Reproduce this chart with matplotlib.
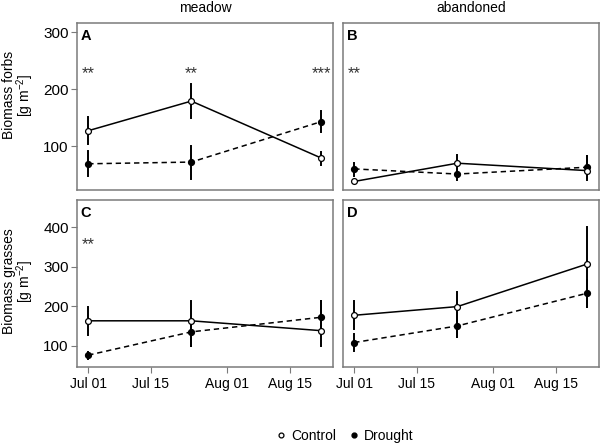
import datetime as dt
import matplotlib
matplotlib.use('Agg')
import matplotlib.pyplot as plt
import matplotlib.dates as mdates
from matplotlib.lines import Line2D

plt.rcParams.update({
    'font.family': ['Liberation Sans', 'DejaVu Sans'],
    'font.size': 10,
    'mathtext.fontset': 'custom',
    'mathtext.rm': 'Liberation Sans',
})

dates = [dt.date(2015, 7, 1), dt.date(2015, 7, 24), dt.date(2015, 8, 22)]

# forbs, meadow (A)
forb_mead_ctrl = [127, 179, 79]
forb_mead_ctrl_lo = [103, 149, 66]
forb_mead_ctrl_hi = [151, 209, 90]
forb_mead_drt = [69, 72, 143]
forb_mead_drt_lo = [47, 43, 124]
forb_mead_drt_hi = [91, 101, 162]

# forbs, abandoned (B)
forb_aban_ctrl = [38, 70, 57]
forb_aban_ctrl_lo = [36, 59, 41]
forb_aban_ctrl_hi = [40, 84, 82]
forb_aban_drt = [60, 51, 63]
forb_aban_drt_lo = [48, 41, 44]
forb_aban_drt_hi = [71, 60, 83]

# grasses, meadow (C)
gras_mead_ctrl = [163, 163, 138]
gras_mead_ctrl_lo = [127, 98, 98]
gras_mead_ctrl_hi = [198, 214, 213]
gras_mead_drt = [76, 135, 172]
gras_mead_drt_lo = [66, 98, 130]
gras_mead_drt_hi = [85, 166, 213]

# grasses, abandoned (D)
gras_aban_ctrl = [177, 199, 307]
gras_aban_ctrl_lo = [141, 122, 199]
gras_aban_ctrl_hi = [214, 237, 400]
gras_aban_drt = [108, 150, 233]
gras_aban_drt_lo = [87, 122, 199]
gras_aban_drt_hi = [130, 183, 266]

# significance stars per date
stars_A = ['**', '**', '***']
stars_B = ['**', '', '']
stars_C = ['**', '', '']
stars_D = ['', '', '']

panels = [
    ('A', forb_mead_ctrl, forb_mead_ctrl_lo, forb_mead_ctrl_hi,
     forb_mead_drt, forb_mead_drt_lo, forb_mead_drt_hi, stars_A),
    ('B', forb_aban_ctrl, forb_aban_ctrl_lo, forb_aban_ctrl_hi,
     forb_aban_drt, forb_aban_drt_lo, forb_aban_drt_hi, stars_B),
    ('C', gras_mead_ctrl, gras_mead_ctrl_lo, gras_mead_ctrl_hi,
     gras_mead_drt, gras_mead_drt_lo, gras_mead_drt_hi, stars_C),
    ('D', gras_aban_ctrl, gras_aban_ctrl_lo, gras_aban_ctrl_hi,
     gras_aban_drt, gras_aban_drt_lo, gras_aban_drt_hi, stars_D),
]

fig = plt.figure(figsize=(6, 4.45), dpi=100)
W, H = 600.0, 445.0
boxes = {
    'A': (77, 23, 333, 190),
    'B': (343, 23, 599, 190),
    'C': (77, 200, 333, 367),
    'D': (343, 200, 599, 367),
}
ylims = {'A': (23, 316), 'B': (23, 316), 'C': (46, 469), 'D': (46, 469)}
yticks = {'A': [100, 200, 300], 'C': [100, 200, 300, 400]}
star_y = {'A': 228, 'B': 228, 'C': 355, 'D': 355}

xmin = mdates.date2num(dt.date(2015, 7, 1)) - 2.5
xmax = mdates.date2num(dt.date(2015, 7, 1)) + 54.6
xt = [dt.date(2015, 7, 1), dt.date(2015, 7, 15), dt.date(2015, 8, 1), dt.date(2015, 8, 15)]
frame_col = '#7a7a7a'

for name, c, clo, chi, d, dlo, dhi, stars in panels:
    l, t, r, b = boxes[name]
    ax = fig.add_axes([l / W, 1 - b / H, (r - l) / W, (b - t) / H])
    x = mdates.date2num(dates)
    for i in range(3):
        ax.plot([x[i], x[i]], [clo[i], chi[i]], color='black', lw=1.4, zorder=2)
        ax.plot([x[i], x[i]], [dlo[i], dhi[i]], color='black', lw=1.4, zorder=2)
    ax.plot(x, d, color='black', lw=1.1, ls=(0, (3.5, 2.5)), zorder=3,
            marker='o', ms=4.2, mfc='black', mec='black')
    ax.plot(x, c, color='black', lw=1.1, zorder=4,
            marker='o', ms=4.2, mfc='white', mec='black', mew=0.9)
    for i, s in enumerate(stars):
        if s:
            ax.text(x[i], star_y[name], s, ha='center', va='center',
                    fontsize=12, color='#333333')
    ax.text(0.015, 0.965, name, transform=ax.transAxes, ha='left', va='top',
            fontsize=10.5, fontweight='bold')
    ax.set_xlim(xmin, xmax)
    ax.set_ylim(*ylims[name])
    for sp in ax.spines.values():
        sp.set_color(frame_col)
        sp.set_linewidth(1.1)
    ax.tick_params(direction='out', length=4, width=0.8, color=frame_col)
    if name in ('C', 'D'):
        ax.set_xticks(mdates.date2num(xt))
        ax.xaxis.set_major_formatter(mdates.DateFormatter('%b %d'))
    else:
        ax.set_xticks([])
    if name in ('A', 'C'):
        ax.set_yticks(yticks[name])
    else:
        ax.set_yticks([])
    ax.tick_params(axis='x', labelsize=10, pad=3)
    ax.tick_params(axis='y', labelsize=11, pad=2)

fig.text(205 / W, 1 - 8 / H, 'meadow', ha='center', va='center', fontsize=10)
fig.text(471 / W, 1 - 8 / H, 'abandoned', ha='center', va='center', fontsize=10)

# y labels: two lines each, drawn as separate texts
fig.text(9 / W, 1 - 95 / H, 'Biomass forbs', rotation=90,
         ha='center', va='center', fontsize=10)
fig.text(25 / W, 1 - 95 / H, '[g m$^{-2}$]', rotation=90,
         ha='center', va='center', fontsize=10)
fig.text(9 / W, 1 - 281 / H, 'Biomass grasses', rotation=90,
         ha='center', va='center', fontsize=10)
fig.text(25 / W, 1 - 281 / H, '[g m$^{-2}$]', rotation=90,
         ha='center', va='center', fontsize=10)

handles = [
    Line2D([], [], ls='none', marker='o', ms=3.5, mfc='white', mec='black', mew=0.9),
    Line2D([], [], ls='none', marker='o', ms=3.5, mfc='black', mec='black'),
]
fig.legend(handles, ['Control', 'Drought'], loc='center', ncol=2,
           bbox_to_anchor=(344 / W, 1 - 436 / H), frameon=False, fontsize=10,
           handletextpad=0.2, columnspacing=0.8, handlelength=1.0)

fig.savefig('out.png', dpi=100)
